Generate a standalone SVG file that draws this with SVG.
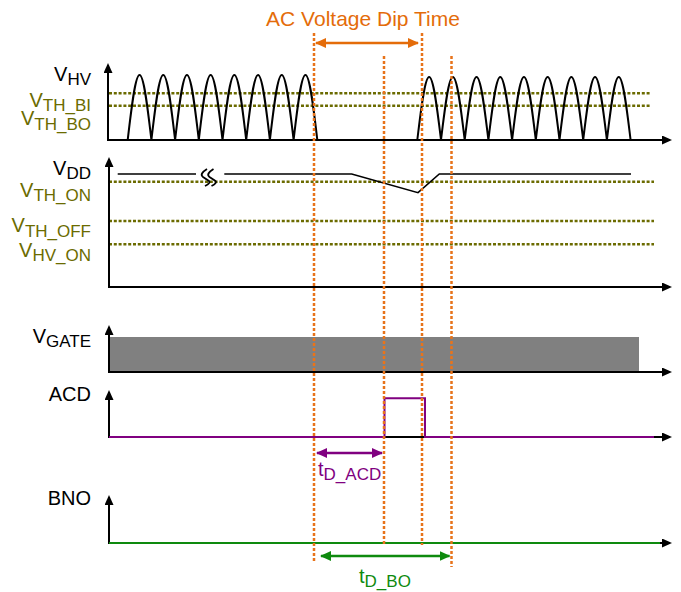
<svg xmlns="http://www.w3.org/2000/svg" width="681" height="592" viewBox="0 0 681 592">
<style>
text{font-family:"Liberation Sans",Arial,sans-serif;font-size:20px}
.sub{font-size:17px}
.olive{fill:#6B6B00}
.axis{fill:none;stroke:#000;stroke-width:2;marker-start:url(#ah);marker-end:url(#ah)}
.th{fill:none;stroke:#6B6B00;stroke-width:2.5;stroke-dasharray:3 1.8}
.sig{fill:none;stroke:#000;stroke-width:2}
.org{fill:none;stroke:#E8731A;stroke-width:2.5;stroke-dasharray:3 2}
</style>
<defs>
<marker id="ah" viewBox="0 0 10 9" refX="8" refY="4.5" markerWidth="10" markerHeight="9" markerUnits="userSpaceOnUse" orient="auto-start-reverse"><path d="M0,0 L10,4.5 L0,9 z" fill="#000"/></marker>
<marker id="ao" viewBox="0 0 11 10" refX="10" refY="5" markerWidth="11" markerHeight="10" markerUnits="userSpaceOnUse" orient="auto-start-reverse"><path d="M0,0 L11,5 L0,10 z" fill="#E46C0A"/></marker>
<marker id="ap" viewBox="0 0 11 10" refX="10" refY="5" markerWidth="11" markerHeight="10" markerUnits="userSpaceOnUse" orient="auto-start-reverse"><path d="M0,0 L11,5 L0,10 z" fill="#800080"/></marker>
<marker id="ag" viewBox="0 0 11 10" refX="10" refY="5" markerWidth="11" markerHeight="10" markerUnits="userSpaceOnUse" orient="auto-start-reverse"><path d="M0,0 L11,5 L0,10 z" fill="#0E8A0E"/></marker>
</defs>
<rect width="681" height="592" fill="#fff"/>

<text x="363" y="26" text-anchor="middle" style="font-size:21px;fill:#E46C0A">AC Voltage Dip Time</text>

<g id="vhv">
<path class="th" d="M109 93.3H650M109 105.7H650"/>
<path class="axis" d="M108 65V140H670"/>
<path class="sig" d="M127.7 140c3.95-34 7.55-65 11.85-65c4.3 0 7.9 31 11.85 65c3.95-34 7.55-65 11.85-65c4.3 0 7.9 31 11.85 65c3.95-34 7.55-65 11.85-65c4.3 0 7.9 31 11.85 65c3.95-34 7.55-65 11.850-65c4.3 0 7.9 31 11.85 65c3.95-34 7.55-65 11.85-65c4.3 0 7.9 31 11.85 65c3.95-34 7.55-65 11.85-65c4.3 0 7.9 31 11.85 65c3.95-34 7.55-65 11.85-65c4.3 0 7.9 31 11.85 65c3.95-34 7.55-65 11.85-65c4.3 0 7.9 31 11.85 65"/>
<path class="sig" d="M417.3 140c3.95-33 7.55-63 11.85-63c4.3 0 7.9 30 11.85 63c3.95-33 7.55-63 11.85-63c4.3 0 7.9 30 11.85 63c3.95-33 7.55-63 11.85-63c4.3 0 7.9 30 11.85 63c3.95-33 7.55-63 11.85-63c4.3 0 7.9 30 11.85 63c3.95-33 7.55-63 11.85-63c4.3 0 7.9 30 11.85 63c3.95-33 7.55-63 11.85-63c4.3 0 7.9 30 11.85 63c3.95-33 7.55-63 11.85-63c4.3 0 7.9 30 11.85 63c3.95-33 7.55-63 11.85-63c4.3 0 7.9 30 11.85 63c3.95-33 7.55-63 11.85-63c4.3 0 7.9 30 11.85 63"/>
<text x="91" y="81" text-anchor="end">V<tspan class="sub" dy="4">HV</tspan></text>
<text x="91" y="106.5" text-anchor="end" class="olive">V<tspan class="sub" dy="4.5">TH_BI</tspan></text>
<text x="91" y="125" text-anchor="end" class="olive">V<tspan class="sub" dy="5">TH_BO</tspan></text>
</g>

<g id="vdd">
<path class="th" d="M109 181.7H654M109 221H654M109 244.3H654"/>
<path class="axis" d="M109 159V287H670"/>
<path fill="none" stroke="#000" stroke-width="1.6" d="M117.7 174H196M224.3 174H351.7L418 192.7L439.3 174H631"/>
<path fill="none" stroke="#000" stroke-width="1.8" d="M207 169Q199 174 203 177L209 181Q211 183 205 186M213.5 169Q205.5 174 209.5 177L215.5 181Q217.5 183 211.5 186"/>
<text x="91" y="175" text-anchor="end">V<tspan class="sub" dy="4">DD</tspan></text>
<text x="91" y="196.5" text-anchor="end" class="olive">V<tspan class="sub" dy="4.2">TH_ON</tspan></text>
<text x="91" y="232" text-anchor="end" class="olive">V<tspan class="sub" dy="4.7">TH_OFF</tspan></text>
<text x="91" y="256.5" text-anchor="end" class="olive">V<tspan class="sub" dy="4.5">HV_ON</tspan></text>
</g>

<g id="vgate">
<rect x="109" y="337" width="530" height="35" fill="#808080"/>
<path class="axis" d="M109 327V372H670"/>
<text x="91" y="343" text-anchor="end">V<tspan class="sub" dy="4">GATE</tspan></text>
</g>

<g id="acd">
<path class="axis" d="M109 392V437H670"/>
<path fill="none" stroke="#800080" stroke-width="2" d="M109 437H384.5V398.3H425V437H654"/>
<text x="91" y="401" text-anchor="end">ACD</text>
</g>

<g id="bno">
<path class="axis" d="M109 497V543H670"/>
<path fill="none" stroke="#0E8A0E" stroke-width="2.2" d="M109 543H660"/>
<text x="91" y="505" text-anchor="end">BNO</text>
</g>

<g id="markers">
<path class="org" d="M314 33V563M384 56V545M422 33V545M451.5 56V567"/>
</g>

<g id="connectors">
<path fill="none" stroke="#E46C0A" stroke-width="2.5" d="M316 43H418" marker-start="url(#ao)" marker-end="url(#ao)"/>
<path fill="none" stroke="#800080" stroke-width="2.5" d="M317 453H382" marker-start="url(#ap)" marker-end="url(#ap)"/>
<path fill="none" stroke="#0E8A0E" stroke-width="2.5" d="M321 556H449.5" marker-start="url(#ag)" marker-end="url(#ag)"/>
</g>

<text x="318" y="476" style="fill:#800080">t<tspan class="sub" dy="4">D_ACD</tspan></text>
<text x="359" y="583" style="fill:#0E8A0E">t<tspan class="sub" dy="4">D_BO</tspan></text>
</svg>
